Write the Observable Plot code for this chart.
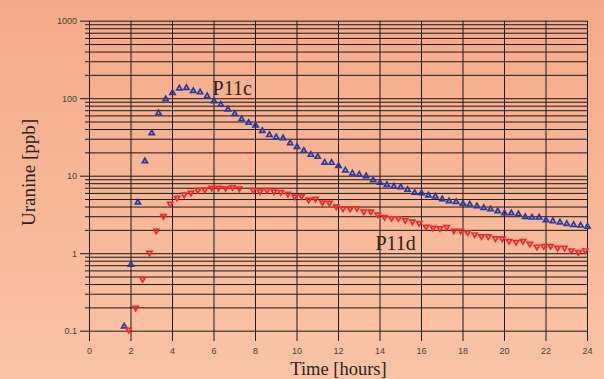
<!DOCTYPE html>
<html>
<head>
<meta charset="utf-8">
<script src="https://cdn.jsdelivr.net/npm/d3@7"></script>
<script src="https://cdn.jsdelivr.net/npm/@observablehq/plot@0.6"></script>
<style>
  html, body { margin: 0; padding: 0; }
  body { width: 604px; height: 379px; overflow: hidden;
         background: linear-gradient(to bottom, #f4aa8a 0%, #f7b797 50%, #f9c3a6 100%); }
  #chart svg { display: block; background: transparent; }
</style>
</head>
<body>
<div id="chart"></div>
<script>
// P11c (blue, upward triangles)
const timeP11c = [1.67,2.00,2.33,2.67,3.00,3.33,3.67,4.00,4.33,4.67,5.00,5.33,5.67,6.00,6.33,6.67,7.00,7.33,7.67,8.00,8.33,8.67,9.00,9.33,9.67,10.00,10.33,10.67,11.00,11.33,11.67,12.00,12.33,12.67,13.00,13.33,13.67,14.00,14.33,14.67,15.00,15.33,15.67,16.00,16.33,16.67,17.00,17.33,17.67,18.00,18.33,18.67,19.00,19.33,19.67,20.00,20.33,20.67,21.00,21.33,21.67,22.00,22.33,22.67,23.00,23.33,23.67,24.00];
const ppbP11c = [0.115,0.72,4.58,15.6,35.9,65,98.6,119,136,138,126,121,108,93,84,72.6,63.8,54.4,48.9,45.1,38.5,34.2,31.8,30.9,26.7,23.9,21.3,18.9,17.8,15.0,14.9,13.6,11.9,10.9,10.5,10.0,8.88,8.22,7.74,7.36,7.21,6.68,6.11,6.04,5.64,5.47,5.05,4.76,4.67,4.41,4.31,4.10,3.91,3.75,3.53,3.33,3.33,3.23,2.99,2.93,2.93,2.71,2.63,2.53,2.43,2.36,2.31,2.24];

// P11d (red, downward triangles)
const timeP11d = [1.89,2.22,2.56,2.89,3.22,3.56,3.89,4.22,4.56,4.89,5.22,5.56,5.89,6.22,6.56,6.89,7.22,7.89,8.22,8.56,8.89,9.22,9.56,9.89,10.22,10.56,10.89,11.22,11.56,11.89,12.22,12.56,12.89,13.22,13.56,13.89,14.22,14.56,14.89,15.22,15.56,15.89,16.22,16.56,16.89,17.22,17.56,17.89,18.22,18.56,18.89,19.22,19.56,19.89,20.22,20.56,20.89,21.22,21.56,21.89,22.22,22.56,22.89,23.22,23.56,23.89];
const ppbP11d = [0.104,0.200,0.469,1.03,1.97,3.05,4.41,5.26,5.80,6.11,6.60,6.73,7.08,7.08,7.00,7.21,6.94,6.60,6.35,6.60,6.35,6.22,5.93,5.47,5.52,4.96,5.11,4.58,4.54,4.06,3.83,3.80,3.86,3.50,3.50,3.20,2.96,2.87,2.87,2.71,2.60,2.48,2.22,2.16,2.13,2.20,1.98,1.97,1.88,1.77,1.67,1.67,1.58,1.57,1.45,1.41,1.45,1.34,1.23,1.25,1.25,1.19,1.19,1.10,1.05,1.10];

// ticks / labels
const xTicks = [0,2,4,6,8,10,12,14,16,18,20,22,24];
const yMajor = [0.1,1,10,100,1000];
const yMajorLabels = ["0.1","1","10","100","1000"];
const yMinor = [0.2,0.3,0.4,0.5,0.6,0.7,0.8,0.9,2,3,4,5,6,7,8,9,20,30,40,50,60,70,80,90,200,300,400,500,600,700,800,900];
const seriesLabels = ["P11c","P11d"];
const seriesLabelTime = [5.93,13.78];
const seriesLabelPpb = [110,1.13];
const xTitle = "Time [hours]";
const yTitle = "Uranine [ppb]";

const blue = timeP11c.map((t,i)=>({t, v: ppbP11c[i]}));
const red = timeP11d.map((t,i)=>({t, v: ppbP11d[i]}));
const labels = seriesLabels.map((s,i)=>({s, t: seriesLabelTime[i], v: seriesLabelPpb[i]}));

const lineColor = "#1e1a18";
const tickText = "#4a4440";

const chart = Plot.plot({
  width: 604,
  height: 379,
  margin: 0,
  style: {background: "transparent", overflow: "visible"},
  x: {domain: [0, 24], range: [89, 587], axis: null},
  y: {type: "log", domain: [0.1, 1000], range: [330.7, 20.7], axis: null},
  marks: [
    Plot.ruleY(yMinor, {x1: -0.19, x2: 24, stroke: lineColor, strokeWidth: 1}),
    Plot.ruleY(yMajor, {x1: -0.43, x2: 24, stroke: lineColor, strokeWidth: 1}),
    Plot.ruleX(xTicks, {y1: 0.0736, y2: 1000, stroke: lineColor, strokeWidth: 1}),
    Plot.text(yMajor, {x: -0.6, y: d => d, text: (d,i) => yMajorLabels[i], textAnchor: "end",
      fontFamily: "Liberation Sans, Arial, sans-serif", fontSize: 9, fill: tickText}),
    Plot.text(xTicks, {x: d => d, y: 0.0548, text: d => String(d), textAnchor: "middle",
      fontFamily: "Liberation Sans, Arial, sans-serif", fontSize: 9, fill: tickText}),
    Plot.dot(blue, {x: "t", y: "v", symbol: "triangle", r: 1.9, stroke: "#2b3a9e", strokeWidth: 1.7, fill: "none"}),
    Plot.dot(red, {x: "t", y: "v", symbol: "triangle", rotate: 180, r: 1.9, stroke: "#ee2a2a", strokeWidth: 1.7, fill: "none"}),
    Plot.text(labels, {x: "t", y: "v", text: "s", textAnchor: "start", lineAnchor: "bottom",
      fontFamily: "Liberation Serif, Times New Roman, serif", fontSize: 20, fill: "#2a2420"}),
    Plot.text([xTitle], {x: 12, y: 0.0272, text: d => d, textAnchor: "middle", lineAnchor: "bottom",
      fontFamily: "Liberation Serif, Times New Roman, serif", fontSize: 18.5, fill: "#2a2420"}),
    Plot.text([yTitle], {x: -2.94, y: 11.2, text: d => d, rotate: -90, textAnchor: "middle", lineAnchor: "middle",
      fontFamily: "Liberation Serif, Times New Roman, serif", fontSize: 19, fill: "#2a2420"})
  ]
});
document.getElementById("chart").appendChild(chart);
</script>
</body>
</html>
